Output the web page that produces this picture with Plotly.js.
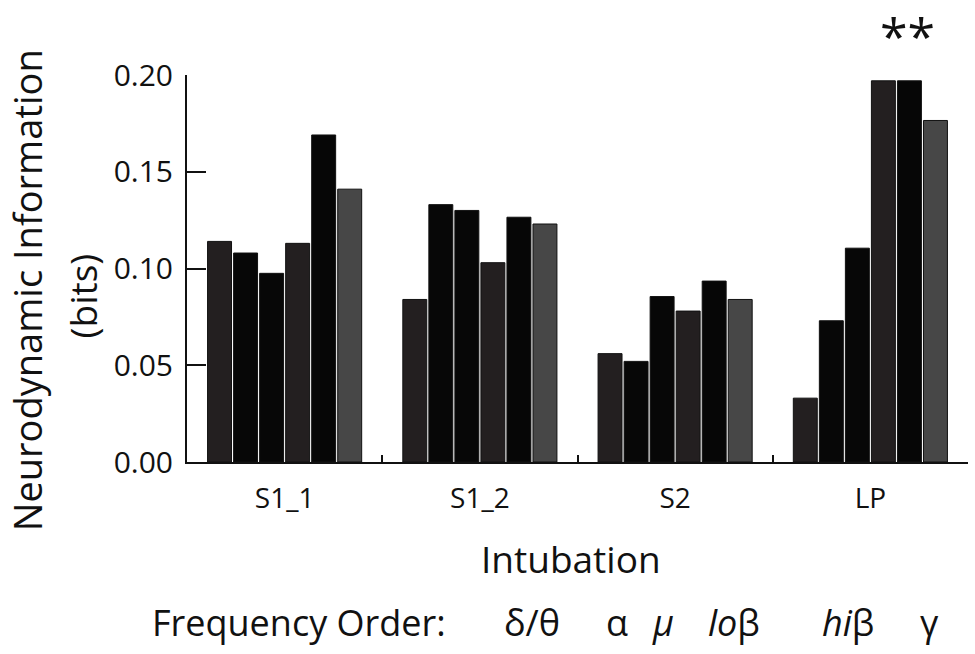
<!DOCTYPE html>
<html>
<head>
<meta charset="utf-8">
<script src="https://cdn.plot.ly/plotly-3.0.1.min.js"></script>
<style>
  html, body { margin: 0; padding: 0; background: #fff; }
  #chart { width: 975px; height: 654px; }
</style>
</head>
<body>
<div id="chart"></div>
<script>
// Intubation groups on the x axis
const categories = ['S1_1', 'S1_2', 'S2', 'LP'];

// Frequency bands, in the order the bars are drawn inside each group
const bands = ['δ/θ', 'α', 'μ', 'loβ', 'hiβ', 'γ'];

// Neurodynamic information (bits) per band, one value per intubation group
const deltaTheta = [0.114, 0.084, 0.056, 0.033];
const alpha = [0.108, 0.133, 0.052, 0.073];
const mu = [0.0975, 0.130, 0.0855, 0.1105];
const loBeta = [0.113, 0.103, 0.078, 0.197];
const hiBeta = [0.169, 0.1265, 0.0935, 0.197];
const gamma = [0.141, 0.123, 0.084, 0.1765];

const yTicks = [0, 0.05, 0.10, 0.15, 0.20];
const yTickText = ['0.00', '0.05', '0.10', '0.15', '0.20'];

// Legend line under the chart (band names with italic prefixes)
const freqLabels = ['δ/θ', 'α', '<i>μ</i>', '<i>lo</i>β', '<i>hi</i>β', 'γ'];

const FONT = '"Open Sans", "DejaVu Sans", sans-serif';
const bandColors = ['#231f20', '#070707', '#070707', '#231f20', '#060606', '#474747'];
const seriesValues = [deltaTheta, alpha, mu, loBeta, hiBeta, gamma];

const traces = seriesValues.map((vals, i) => ({
    type: 'bar',
    name: bands[i],
    x: categories,
    y: vals,
    marker: {
        color: bandColors[i],
        line: { color: '#111', width: 1 }
    },
    hoverinfo: 'x+y+name'
}));

// Paper x positions of the frequency labels at the bottom
const freqX = [0.4417, 0.5506, 0.6095, 0.7004, 0.8464, 0.9513];

const annotations = [
    {
        text: 'Neurodynamic Information', textangle: -90,
        xref: 'paper', yref: 'paper', x: -0.2394, y: 0.444,
        xanchor: 'left', yanchor: 'middle', showarrow: false, borderpad: 0,
        font: { family: FONT, size: 38, color: '#111' }
    },
    {
        text: '(bits)', textangle: -90,
        xref: 'paper', yref: 'paper', x: -0.1344, y: 0.428,
        xanchor: 'center', yanchor: 'middle', showarrow: false,
        font: { family: FONT, size: 37, color: '#111' }
    },
    {
        text: 'Intubation',
        xref: 'paper', yref: 'paper', x: 0.4917, y: -0.249,
        xanchor: 'center', yanchor: 'middle', showarrow: false,
        font: { family: FONT, size: 37, color: '#111' }
    },
    {
        text: 'Frequency Order:',
        xref: 'paper', yref: 'paper', x: -0.0474, y: -0.4145,
        xanchor: 'left', yanchor: 'middle', showarrow: false,
        font: { family: FONT, size: 36, color: '#111' }
    },
    {
        text: '**',
        xref: 'paper', yref: 'paper', x: 0.922, y: 1.192,
        xanchor: 'center', yanchor: 'top', showarrow: false, borderpad: 0,
        font: { family: FONT, size: 50, color: '#111' }
    }
].concat(freqLabels.map((t, i) => ({
    text: t,
    xref: 'paper', yref: 'paper', x: freqX[i], y: -0.4145,
    xanchor: 'center', yanchor: 'middle', showarrow: false,
    font: { family: FONT, size: 36, color: '#111' }
})));

const layout = {
    width: 975,
    height: 654,
    margin: { l: 187, r: 7, t: 75, b: 192, pad: 0 },
    paper_bgcolor: '#fff',
    plot_bgcolor: '#fff',
    showlegend: false,
    barmode: 'group',
    bargap: 0.2,
    bargroupgap: 0.08,
    font: { family: FONT, color: '#111' },
    xaxis: {
        type: 'category',
        range: [-0.5, 3.5],
        showline: true,
        linecolor: '#111',
        linewidth: 2,
        ticks: 'inside',
        tickson: 'boundaries',
        ticklen: 7,
        tickwidth: 2,
        tickcolor: '#111',
        showgrid: false,
        zeroline: false,
        ticklabelstandoff: 10,
        tickfont: { family: FONT, size: 28, color: '#111' }
    },
    yaxis: {
        range: [0, 0.2],
        showline: true,
        linecolor: '#111',
        linewidth: 2,
        ticks: 'inside',
        ticklen: 19,
        tickwidth: 2,
        tickcolor: '#111',
        tickvals: yTicks,
        ticktext: yTickText,
        showgrid: false,
        zeroline: false,
        ticklabelstandoff: 6,
        tickfont: { family: FONT, size: 30, color: '#111' }
    },
    annotations: annotations
};

Plotly.newPlot('chart', traces, layout, { staticPlot: true, displayModeBar: false });
</script>
</body>
</html>
